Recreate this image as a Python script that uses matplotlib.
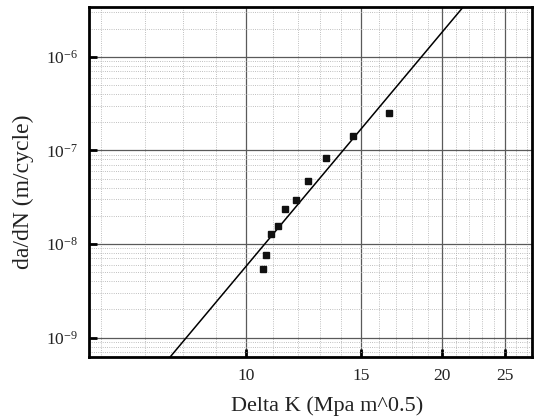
import matplotlib
matplotlib.use("Agg")
import matplotlib.pyplot as plt
from matplotlib.ticker import FixedLocator, FixedFormatter, LogLocator, LogFormatterMathtext, NullFormatter
import numpy as np

plt.rcParams["font.family"] = ["Liberation Serif", "DejaVu Serif"]
plt.rcParams["mathtext.fontset"] = "stix"

# Datos medidos (Delta K, da/dN)
delta_k = [10.63, 10.72, 10.93, 11.21, 11.48, 11.92, 12.46, 13.27, 14.58, 16.60]
dadn = [5.4e-9, 7.7e-9, 1.29e-8, 1.55e-8, 2.34e-8, 2.92e-8, 4.72e-8, 8.3e-8, 1.44e-7, 2.53e-7]

# Ajuste de Paris: da/dN = C * dK^m
paris_C = 10 ** -16.56
paris_m = 8.32

x_ticks = [10, 15, 20, 25]
x_tick_labels = ["10", "15", "20", "25"]
y_ticks = [1e-9, 1e-8, 1e-7, 1e-6]

fig, ax = plt.subplots(figsize=(5.35, 4.18), dpi=100)
fig.subplots_adjust(left=0.166, right=0.995, top=0.983, bottom=0.146)

dk_fit = np.logspace(np.log10(5.0), np.log10(30.0), 200)
ax.plot(dk_fit, paris_C * dk_fit ** paris_m, color="black", lw=1.1, zorder=3)
ax.plot(delta_k, dadn, ls="none", marker="s", ms=5, color="#111111", zorder=4)

ax.set_xscale("log")
ax.set_yscale("log")
ax.set_xlim(5.74, 27.5)
ax.set_ylim(6.2e-10, 3.4e-6)

ax.xaxis.set_major_locator(FixedLocator(x_ticks))
ax.xaxis.set_major_formatter(FixedFormatter(x_tick_labels))
ax.xaxis.set_minor_locator(FixedLocator(list(range(6, 28))))
ax.xaxis.set_minor_formatter(NullFormatter())
ax.yaxis.set_major_locator(FixedLocator(y_ticks))
ax.yaxis.set_major_formatter(LogFormatterMathtext())
ax.yaxis.set_minor_locator(LogLocator(base=10, subs=np.arange(2, 10), numticks=20))
ax.yaxis.set_minor_formatter(NullFormatter())

ax.grid(which="major", color="#5a5a5a", lw=0.9, ls="-")
ax.grid(which="minor", color="#aaaaaa", lw=0.6, ls=":")
ax.set_axisbelow(True)

ax.tick_params(which="major", direction="in", length=6, width=2, labelsize=12.5,
               labelcolor="#222222", top=False, right=False, pad=8)
ax.tick_params(which="minor", length=0)
for s in ax.spines.values():
    s.set_linewidth(2)

ax.set_xlabel("Delta K (Mpa m^0.5)", fontsize=16, color="#222222")
ax.set_ylabel("da/dN (m/cycle)", fontsize=17, color="#222222")
ax.xaxis.set_label_coords(0.538, -0.113)
ax.yaxis.set_label_coords(-0.124, 0.471)

fig.savefig("out.png", dpi=100)
